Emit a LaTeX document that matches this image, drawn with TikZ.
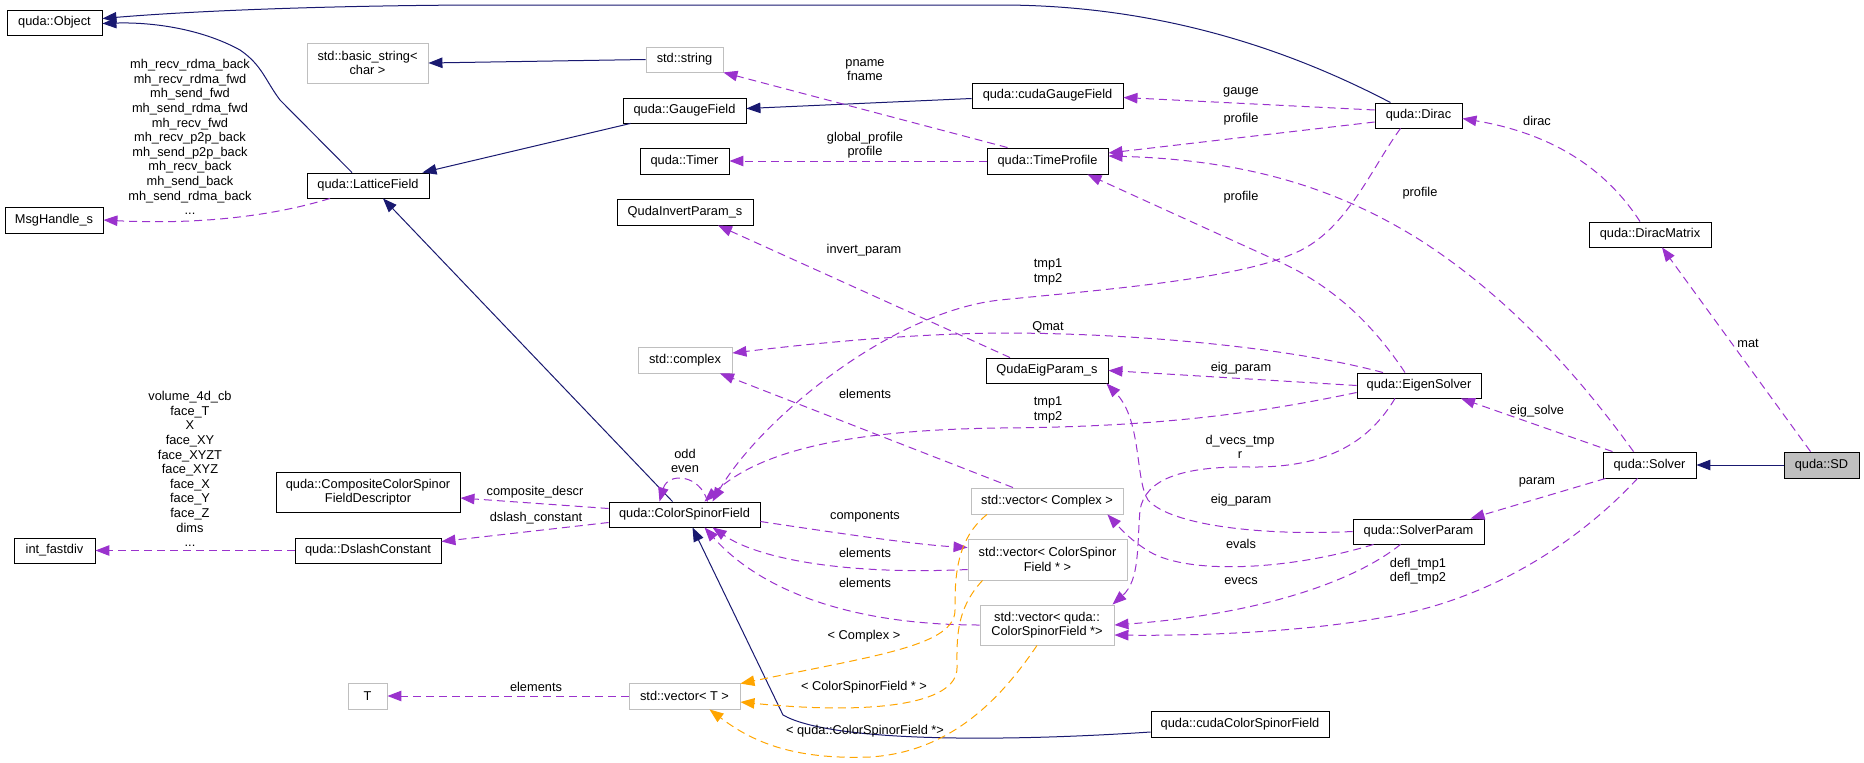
\documentclass[tikz,border=0pt]{standalone}
\usepackage{fontspec}
\setmainfont{Liberation Sans}
\usetikzlibrary{arrows.meta,calc}
\definecolor{purp}{HTML}{9A32CD}
\definecolor{navyc}{HTML}{191970}
\definecolor{orng}{HTML}{FFA500}
\definecolor{gry}{HTML}{BFBFBF}
\begin{document}
\begin{tikzpicture}[x=1pt,y=-1pt,
  font=\fontsize{12.8}{14.6}\selectfont,
  box/.style={draw=black, line width=0.9pt, fill=white, inner sep=0pt, align=center},
  gbox/.style={box, draw=gry},
  tip/.style={-{Triangle[length=14pt,width=10.5pt]}},
  inh/.style={draw=navyc, line width=1pt, tip},
  use/.style={draw=purp, line width=1pt, dash pattern=on 8pt off 5pt, tip},
  tpl/.style={draw=orng, line width=1pt, dash pattern=on 8pt off 5pt, tip},
  lbl/.style={align=center, inner sep=0pt}]
\useasboundingbox (0,0) rectangle (1864,763);

% nodes
\node[box, minimum width=95pt, minimum height=25pt] (obj) at (54.5,22.5) {quda::Object};
\node[box, minimum width=98pt, minimum height=26pt] (msg) at (54,220) {MsgHandle\_s};
\node[gbox, minimum width=121pt, minimum height=40pt] (bstr) at (367.5,63) {std::basic\_string<\\char >};
\node[box, minimum width=122pt, minimum height=25pt] (lat) at (368,185.5) {quda::LatticeField};
\node[gbox, minimum width=77pt, minimum height=25pt] (str) at (684.5,59.5) {std::string};
\node[box, minimum width=123pt, minimum height=25pt] (gauge) at (684.5,110.5) {quda::GaugeField};
\node[box, minimum width=89pt, minimum height=26pt] (timer) at (684.5,161) {quda::Timer};
\node[box, minimum width=136pt, minimum height=26pt] (qip) at (685,212) {QudaInvertParam\_s};
\node[box, minimum width=151pt, minimum height=25pt] (cgauge) at (1047.5,95.5) {quda::cudaGaugeField};
\node[box, minimum width=121pt, minimum height=26pt] (tprof) at (1047.5,161) {quda::TimeProfile};
\node[box, minimum width=87pt, minimum height=25pt] (dirac) at (1418.5,115.5) {quda::Dirac};
\node[box, minimum width=122pt, minimum height=25pt] (dmat) at (1650,234.5) {quda::DiracMatrix};
\node[gbox, minimum width=94pt, minimum height=26pt] (cplx) at (685,360) {std::complex};
\node[box, minimum width=122pt, minimum height=25pt] (qep) at (1047,370.5) {QudaEigParam\_s};
\node[box, minimum width=124pt, minimum height=25pt] (eig) at (1419,385.5) {quda::EigenSolver};
\node[box, minimum width=93pt, minimum height=26pt] (solver) at (1649.5,465) {quda::Solver};
\node[box, fill=gry, minimum width=75pt, minimum height=26pt] (sd) at (1821.5,465) {quda::SD};
\node[box, minimum width=184pt, minimum height=40pt] (comp) at (368,492) {quda::CompositeColorSpinor\\FieldDescriptor};
\node[box, minimum width=151pt, minimum height=25pt] (csf) at (684.5,514.5) {quda::ColorSpinorField};
\node[box, minimum width=81pt, minimum height=25pt] (ifd) at (54.5,550.5) {int\_fastdiv};
\node[box, minimum width=146pt, minimum height=25pt] (dsc) at (368,550.5) {quda::DslashConstant};
\node[gbox, minimum width=39pt, minimum height=26pt] (T) at (367.5,696) {T};
\node[gbox, minimum width=111pt, minimum height=26pt] (vT) at (684.5,696) {std::vector< T >};
\node[gbox, minimum width=152pt, minimum height=26pt] (vcx) at (1047,501) {std::vector< Complex >};
\node[gbox, minimum width=159pt, minimum height=41pt] (vcsf) at (1047.5,559.5) {std::vector< ColorSpinor\\Field * >};
\node[gbox, minimum width=134pt, minimum height=40pt] (vqcsf) at (1047,625) {std::vector< quda::\\ColorSpinorField *>};
\node[box, minimum width=131pt, minimum height=25pt] (sparam) at (1418.5,531.5) {quda::SolverParam};
\node[box, minimum width=178pt, minimum height=26pt] (ccsf) at (1240,724) {quda::cudaColorSpinorField};

% inheritance
\draw[inh] (sd.west) -- (solver.east);
\draw[inh] ([xshift=-28pt]dirac.north) .. controls (1290,50) and (1160,5) .. (1000,5) -- (470,5) .. controls (300,6) and (180,12) .. ([yshift=4pt]obj.east);
\draw[inh] ([xshift=-16pt]lat.north) -- (280,100) .. controls (265,80) and (262,65) .. (240,50) .. controls (200,28) and (150,22) .. ([yshift=-1pt]obj.east);
\draw[inh] ([xshift=-54pt]gauge.south) -- ([xshift=-7pt]lat.north east);
\draw[inh] ([yshift=-3pt]cgauge.west) -- ([yshift=2pt]gauge.east);
\draw[inh] (str.west) -- (bstr.east);
\draw[inh] ([xshift=-12pt]csf.north) -- ([xshift=15pt]lat.south);
\draw[inh] ([yshift=-8pt]ccsf.west) .. controls (1000,742) and (830,742) .. (783,715) -- ([xshift=8pt]csf.south);

% usage
\draw[use] ([xshift=-38pt]lat.south) .. controls (260,220) and (180,224) .. (msg.east);
\node[lbl] (l1) at (190,137) {mh\_recv\_rdma\_back\\mh\_recv\_rdma\_fwd\\mh\_send\_fwd\\mh\_send\_rdma\_fwd\\mh\_recv\_fwd\\mh\_recv\_p2p\_back\\mh\_send\_p2p\_back\\mh\_recv\_back\\mh\_send\_back\\mh\_send\_rdma\_back\\...};
\draw[use] (dsc.west) -- (ifd.east);
\node[lbl] (l2) at (190,469) {volume\_4d\_cb\\face\_T\\X\\face\_XY\\face\_XYZT\\face\_XYZ\\face\_X\\face\_Y\\face\_Z\\dims\\...};
\draw[use] ([yshift=6pt]csf.west) -- ([yshift=-6pt]comp.east);
\node[lbl] (l3) at (535,492) {composite\_descr};
\draw[use] ([yshift=-8pt]csf.west) -- ([yshift=9pt]dsc.east);
\node[lbl] (l4) at (536,518) {dslash\_constant};
\draw[use] ([xshift=23pt]csf.north) .. controls (700,474) and (668,472) .. ([xshift=-25pt]csf.north);
\node[lbl] (l5) at (685,461) {odd\\even};
\draw[use] ([xshift=-18pt]dirac.south) .. controls (1370,170) and (1345,235) .. (1290,255) .. controls (1230,280) and (1100,290) .. (1000,300) .. controls (890,312) and (760,420) .. ([xshift=28pt]csf.north);
\node[lbl] (l6) at (1048,272) {tmp1\\tmp2};
\draw[use] ([xshift=-14pt]eig.north) .. controls (1370,320) and (1330,285) .. (1280,262) -- ([xshift=40pt]tprof.south);
\node[lbl] (l7) at (1241,197) {profile};
\draw[use] ([yshift=-6.5pt]dirac.west) -- ([yshift=8pt]tprof.east);
\node[lbl] (l8) at (1241,119) {profile};
\draw[use] ([yshift=5.5pt]dirac.west) -- ([yshift=-2pt]cgauge.east);
\node[lbl] (l9) at (1241,92) {gauge};
\draw[use] ([xshift=-16pt]solver.north) .. controls (1560,350) and (1490,285) .. (1420,240) .. controls (1340,190) and (1250,160) .. ([yshift=5pt]tprof.east);
\node[lbl] (l10) at (1420,193) {profile};
\draw[use] ([xshift=-10pt]dmat.north) .. controls (1610,175) and (1560,135) .. ([yshift=-3pt]dirac.east);
\node[lbl] (l11) at (1537,121) {dirac};
\draw[use] ([xshift=-11pt]sd.north) -- ([xshift=12pt]dmat.south);
\node[lbl] (l12) at (1748,343) {mat};
\draw[use] ([xshift=-37pt]solver.north) -- ([xshift=42pt]eig.south);
\node[lbl] (l13) at (1537,411) {eig\_solve};
\draw[use] ([xshift=-44pt]solver.south) -- ([xshift=52pt]sparam.north);
\node[lbl] (l14) at (1537,482) {param};
\draw[use] ([xshift=-12pt]solver.south) .. controls (1590,530) and (1500,600) .. (1380,618) .. controls (1300,632) and (1200,636) .. ([yshift=-10pt]vqcsf.east);
\node[lbl] (l15) at (1418,571) {defl\_tmp1\\defl\_tmp2};
\draw[use] ([xshift=-18pt]sparam.south) .. controls (1350,585) and (1250,615) .. (vqcsf.east);
\node[lbl] (l16) at (1241,581) {evecs};
\draw[use] ([xshift=-45pt]sparam.south) .. controls (1290,570) and (1190,575) .. (1150,552) .. controls (1130,540) and (1120,528) .. ([xshift=-16pt]vcx.south east);
\node[lbl] (l17) at (1241,544) {evals};
\draw[use] (sparam.west) .. controls (1260,536) and (1170,525) .. (1148,500) .. controls (1135,480) and (1142,420) .. ([xshift=-2pt]qep.south east);
\node[lbl] (l18) at (1241,500) {eig\_param};
\draw[use] ([xshift=-24pt]eig.south) .. controls (1370,440) and (1330,468) .. (1250,467) .. controls (1180,466) and (1145,480) .. (1140,510) .. controls (1137,545) and (1140,580) .. ([xshift=-2pt]vqcsf.north east);
\node[lbl] (l19) at (1240,447) {d\_vecs\_tmp\\r};
\draw[use] (eig.west) -- (qep.east);
\node[lbl] (l20) at (1241,368) {eig\_param};
\draw[use] ([xshift=-36pt]eig.north) .. controls (1300,350) and (1150,333) .. (1000,333) .. controls (900,334) and (800,345) .. ([yshift=7pt]cplx.east);
\node[lbl] (l21) at (1048,327) {Qmat};
\draw[use] ([yshift=-7pt]eig.west) .. controls (1250,415) and (1150,427) .. (1000,428) .. controls (850,430) and (760,450) .. ([xshift=20pt]csf.north);
\node[lbl] (l22) at (1048,410) {tmp1\\tmp2};
\draw[use] ([xshift=-37pt]qep.north) -- ([xshift=33pt]qip.south);
\node[lbl] (l23) at (864,250) {invert\_param};
\draw[use] ([xshift=-34pt]vcx.north) -- ([xshift=35pt]cplx.south);
\node[lbl] (l24) at (865,394) {elements};
\draw[use] ([yshift=-7pt]csf.east) .. controls (850,535) and (920,545) .. ([yshift=12pt]vcsf.west);
\node[lbl] (l25) at (865,517) {components};
\draw[use] ([yshift=-10pt]vcsf.west) .. controls (850,575) and (760,560) .. ([xshift=28pt]csf.south);
\node[lbl] (l26) at (865,553) {elements};
\draw[use] (vqcsf.west) .. controls (850,625) and (760,590) .. ([xshift=20pt]csf.south);
\node[lbl] (l27) at (865,583) {elements};
\draw[use] (vT.west) -- (T.east);
\node[lbl] (l28) at (536,687) {elements};
\draw[use] ([xshift=-40pt]tprof.north) -- (str.south east);
\node[lbl] (l29) at (865,70) {pname\\fname};
\draw[use] (tprof.west) -- (timer.east);
\node[lbl] (l30) at (865,145) {global\_profile\\profile};

% template instances
\draw[tpl] ([xshift=-60pt]vcx.south) .. controls (955,540) and (955,580) .. (955,610) .. controls (955,645) and (880,655) .. ([yshift=-1pt]vT.north east);
\node[lbl] (l31) at (864,636) {< Complex >};
\draw[tpl] ([xshift=-65pt]vcsf.south) .. controls (955,610) and (957,640) .. (957,668) .. controls (957,705) and (870,715) .. ([yshift=-6pt]vT.east);
\node[lbl] (l32) at (864,687) {< ColorSpinorField * >};
\draw[tpl] ([xshift=-10pt]vqcsf.south) .. controls (1000,700) and (950,752) .. (870,757) .. controls (790,760) and (750,740) .. ([xshift=25pt]vT.south);
\node[lbl] (l33) at (865,731) {< quda::ColorSpinorField *>};
\end{tikzpicture}
\end{document}
